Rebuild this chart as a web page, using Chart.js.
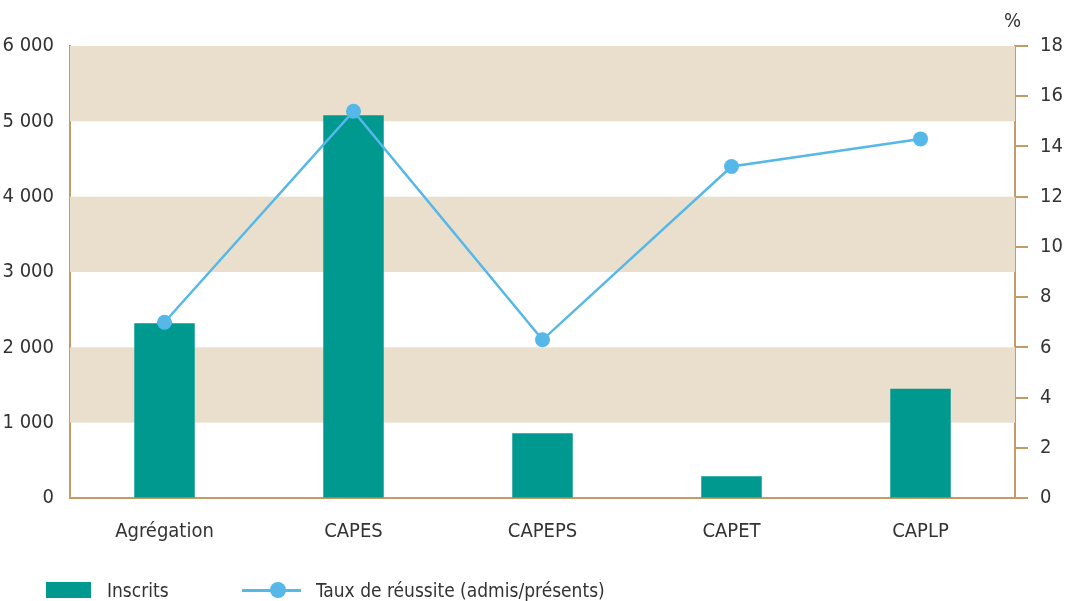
<!DOCTYPE html>
<html><head><meta charset="utf-8">
<script src="https://cdn.jsdelivr.net/npm/chart.js@4"></script>
<style>
html,body{margin:0;padding:0;background:#fff;}
#wrap{position:relative;width:1066px;height:601px;}
canvas{position:absolute;left:0;top:0;}
.lg{position:absolute;font-family:'Liberation Sans Narrow','DejaVu Sans Condensed',sans-serif;font-size:19px;color:#333;line-height:20px;}
</style></head>
<body><div id="wrap"><canvas id="c" width="1066" height="601"></canvas>
<div class="lg" style="left:1004px;top:10px;font-size:20px;">%</div>
<div id="legend"></div></div>
<script>
const categories = ['Agrégation','CAPES','CAPEPS','CAPET','CAPLP'];
const inscrits = [2320, 5080, 860, 290, 1450];
const tauxReussite = [7.0, 15.4, 6.3, 13.2, 14.3];
const leftTicks = [0,1000,2000,3000,4000,5000,6000];
const rightTicks = [0,2,4,6,8,10,12,14,16,18];
const bands = [[1000,2000],[3000,4000],[5000,6000]];
const seriesLabels = ['Inscrits','Taux de réussite (admis/présents)'];

const FONT = "'Liberation Sans Narrow','DejaVu Sans Condensed',sans-serif";
const TAN = '#C49A66';
const BAR = '#00998F';
const LINE = '#55B8E8';

const bandPlugin = {
  id:'bands',
  beforeDatasetsDraw(chart){
    const {ctx, chartArea, scales} = chart;
    const y = scales.y;
    ctx.save();
    ctx.fillStyle = '#EADFCD';
    bands.forEach(([a,b])=>{
      const y1 = y.getPixelForValue(b), y2 = y.getPixelForValue(a);
      ctx.fillRect(chartArea.left, y1, chartArea.right-chartArea.left, y2-y1);
    });
    ctx.restore();
  }
};

const fmt = v => String(v).replace(/\B(?=(\d{3})+(?!\d))/g,' ');

new Chart(document.getElementById('c'), {
  data:{
    labels:categories,
    datasets:[
      {type:'line', label:seriesLabels[1], data:tauxReussite, yAxisID:'y2',
       borderColor:LINE, backgroundColor:LINE, borderWidth:2.5, pointRadius:7.5,
       pointBackgroundColor:LINE, pointBorderWidth:0, tension:0, order:0},
      {type:'bar', label:seriesLabels[0], data:inscrits, yAxisID:'y',
       backgroundColor:BAR, barPercentage:0.32, categoryPercentage:1, order:1}
    ]
  },
  options:{
    responsive:false, animation:false,
    layout:{padding:{top:46,left:0,right:0,bottom:0}},
    plugins:{legend:{display:false}, tooltip:{enabled:false}},
    scales:{
      x:{
        grid:{display:false, drawTicks:false},
        border:{color:TAN, width:2},
        ticks:{color:'#333', font:{family:FONT,size:20}, padding:22},
        afterFit(s){ s.height = 103; }
      },
      y:{
        position:'left', min:0, max:6000,
        afterBuildTicks(s){ s.ticks = leftTicks.map(v=>({value:v})); },
        grid:{drawOnChartArea:false, drawTicks:false},
        border:{color:TAN, width:2},
        ticks:{color:'#333', font:{family:FONT,size:20}, padding:16, callback:v=>fmt(v)},
        afterFit(s){ s.width = 70; }
      },
      y2:{
        position:'right', min:0, max:18,
        afterBuildTicks(s){ s.ticks = rightTicks.map(v=>({value:v})); },
        grid:{drawOnChartArea:false, drawTicks:true, tickLength:13, tickColor:TAN, lineWidth:2},
        border:{color:TAN, width:2},
        ticks:{color:'#333', font:{family:FONT,size:20}, padding:12},
        afterFit(s){ s.width = 51; }
      }
    }
  },
  plugins:[bandPlugin]
});

// HTML legend
const lg = document.getElementById('legend');
lg.innerHTML =
  '<div style="position:absolute;left:46px;top:582px;width:45px;height:16px;background:'+BAR+'"></div>'+
  '<div class="lg" style="left:107px;top:580px;">'+seriesLabels[0]+'</div>'+
  '<div style="position:absolute;left:242px;top:589px;width:59px;height:2.5px;background:'+LINE+'"></div>'+
  '<div style="position:absolute;left:270px;top:582px;width:16px;height:16px;border-radius:50%;background:'+LINE+'"></div>'+
  '<div class="lg" style="left:316px;top:580px;">'+seriesLabels[1]+'</div>';
</script></body></html>
